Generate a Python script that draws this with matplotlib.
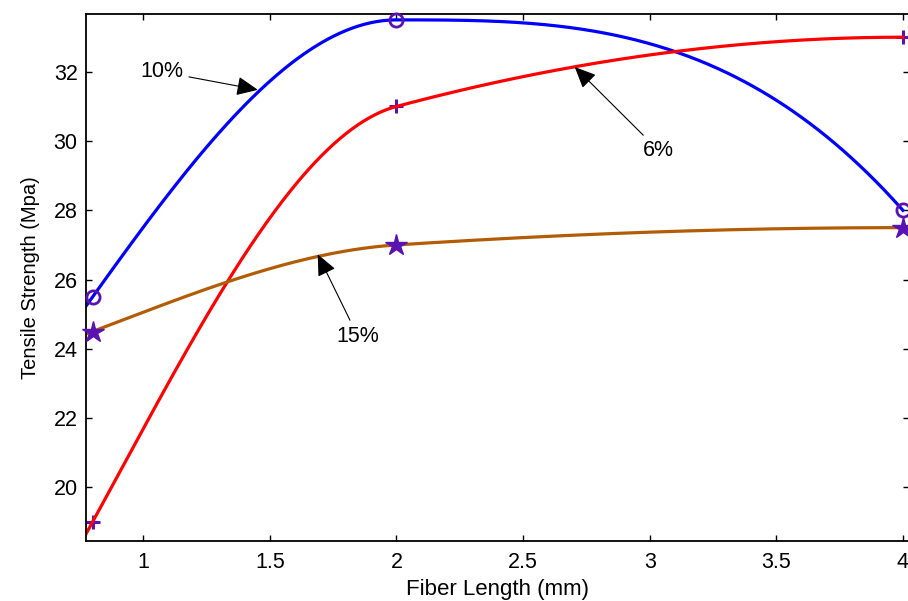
import numpy as np
import matplotlib
matplotlib.use("Agg")
import matplotlib.pyplot as plt
from matplotlib.ticker import FormatStrFormatter, FuncFormatter

# fibre length (mm) and tensile strength (MPa) for each fibre content
fiber_length = [0.8, 2.0, 4.0]
strength_6 = [19.0, 31.0, 33.0]
strength_10 = [25.5, 33.5, 28.0]
strength_15 = [24.5, 27.0, 27.5]

labels = ["6%", "10%", "15%"]


def pchip_curve(x, y, xq):
    # shape-preserving piecewise cubic (same idea as MATLAB pchip)
    x = np.asarray(x, float)
    y = np.asarray(y, float)
    h = np.diff(x)
    delta = np.diff(y) / h
    n = len(x)
    d = np.zeros(n)
    for k in range(1, n - 1):
        if delta[k - 1] * delta[k] > 0:
            w1 = 2 * h[k] + h[k - 1]
            w2 = h[k] + 2 * h[k - 1]
            d[k] = (w1 + w2) / (w1 / delta[k - 1] + w2 / delta[k])

    def end_slope(h0, h1, del0, del1):
        s = ((2 * h0 + h1) * del0 - h0 * del1) / (h0 + h1)
        if np.sign(s) != np.sign(del0):
            s = 0.0
        elif np.sign(del0) != np.sign(del1) and abs(s) > abs(3 * del0):
            s = 3 * del0
        return s

    d[0] = end_slope(h[0], h[1], delta[0], delta[1])
    d[-1] = end_slope(h[-1], h[-2], delta[-1], delta[-2])

    idx = np.clip(np.searchsorted(x, xq) - 1, 0, n - 2)
    t = (xq - x[idx]) / h[idx]
    h00 = 2 * t**3 - 3 * t**2 + 1
    h10 = t**3 - 2 * t**2 + t
    h01 = -2 * t**3 + 3 * t**2
    h11 = t**3 - t**2
    return (h00 * y[idx] + h10 * h[idx] * d[idx]
            + h01 * y[idx + 1] + h11 * h[idx] * d[idx + 1])


plt.rcParams['font.family'] = ['Liberation Sans', 'DejaVu Sans']

fig = plt.figure(figsize=(9.08, 6.01), dpi=100)
ax = fig.add_axes([86 / 908, 60 / 601, 823 / 908, 527 / 601])

xlim = (0.774, 4.024)
xq = np.linspace(xlim[0], 4.0, 400)

mk_color = '#5a12b0'

ax.plot(xq, pchip_curve(fiber_length, strength_10, xq), color='#0000ff', lw=2.3)
ax.plot(xq, pchip_curve(fiber_length, strength_6, xq), color='#ff0000', lw=2.3)
ax.plot(xq, pchip_curve(fiber_length, strength_15, xq), color='#b35c06', lw=2.3)

ax.plot(fiber_length, strength_10, 'o', mfc='none', mec=mk_color, mew=2, ms=9.5,
        clip_on=False, zorder=4)
ax.plot(fiber_length, strength_6, '+', mec=mk_color, mew=2.2, ms=10,
        clip_on=False, zorder=1)
ax.plot(fiber_length, strength_15, '*', color=mk_color, ms=16,
        clip_on=False, zorder=4)

ax.set_xlim(*xlim)
ax.set_ylim(18.45, 33.67)
ax.set_xticks([1, 1.5, 2, 2.5, 3, 3.5, 4])
ax.set_yticks([20, 22, 24, 26, 28, 30, 32])
ax.xaxis.set_major_formatter(FuncFormatter(lambda v, p: f"{v:g}"))
ax.yaxis.set_major_formatter(FormatStrFormatter('%d'))
ax.tick_params(direction='in', length=4, width=1, top=True, right=True,
               labelsize=15.5)
ax.tick_params(axis='x', pad=8)
ax.tick_params(axis='y', pad=6)
ax.spines['right'].set_visible(False)
for s in ['left', 'bottom', 'top']:
    ax.spines[s].set_linewidth(1.3)

ax.set_xlabel('Fiber Length (mm)', fontsize=16, labelpad=4)
ax.set_ylabel('Tensile Strength (Mpa)', fontsize=14.5, labelpad=10)

arrow = dict(arrowstyle='-|>,head_length=0.85,head_width=0.38', color='k',
             lw=0.8, shrinkA=2, shrinkB=0)
ax.annotate(labels[1], xy=(1.453, 31.48), xytext=(1.074, 32.0), fontsize=15.5,
            ha='center', va='center', arrowprops=arrow)
ax.annotate(labels[0], xy=(2.704, 32.14), xytext=(3.035, 29.73), fontsize=15.5,
            ha='center', va='center', arrowprops=arrow)
ax.annotate(labels[2], xy=(1.689, 26.73), xytext=(1.847, 24.37), fontsize=15.5,
            ha='center', va='center', arrowprops=arrow)

fig.savefig('out.png', dpi=100)
